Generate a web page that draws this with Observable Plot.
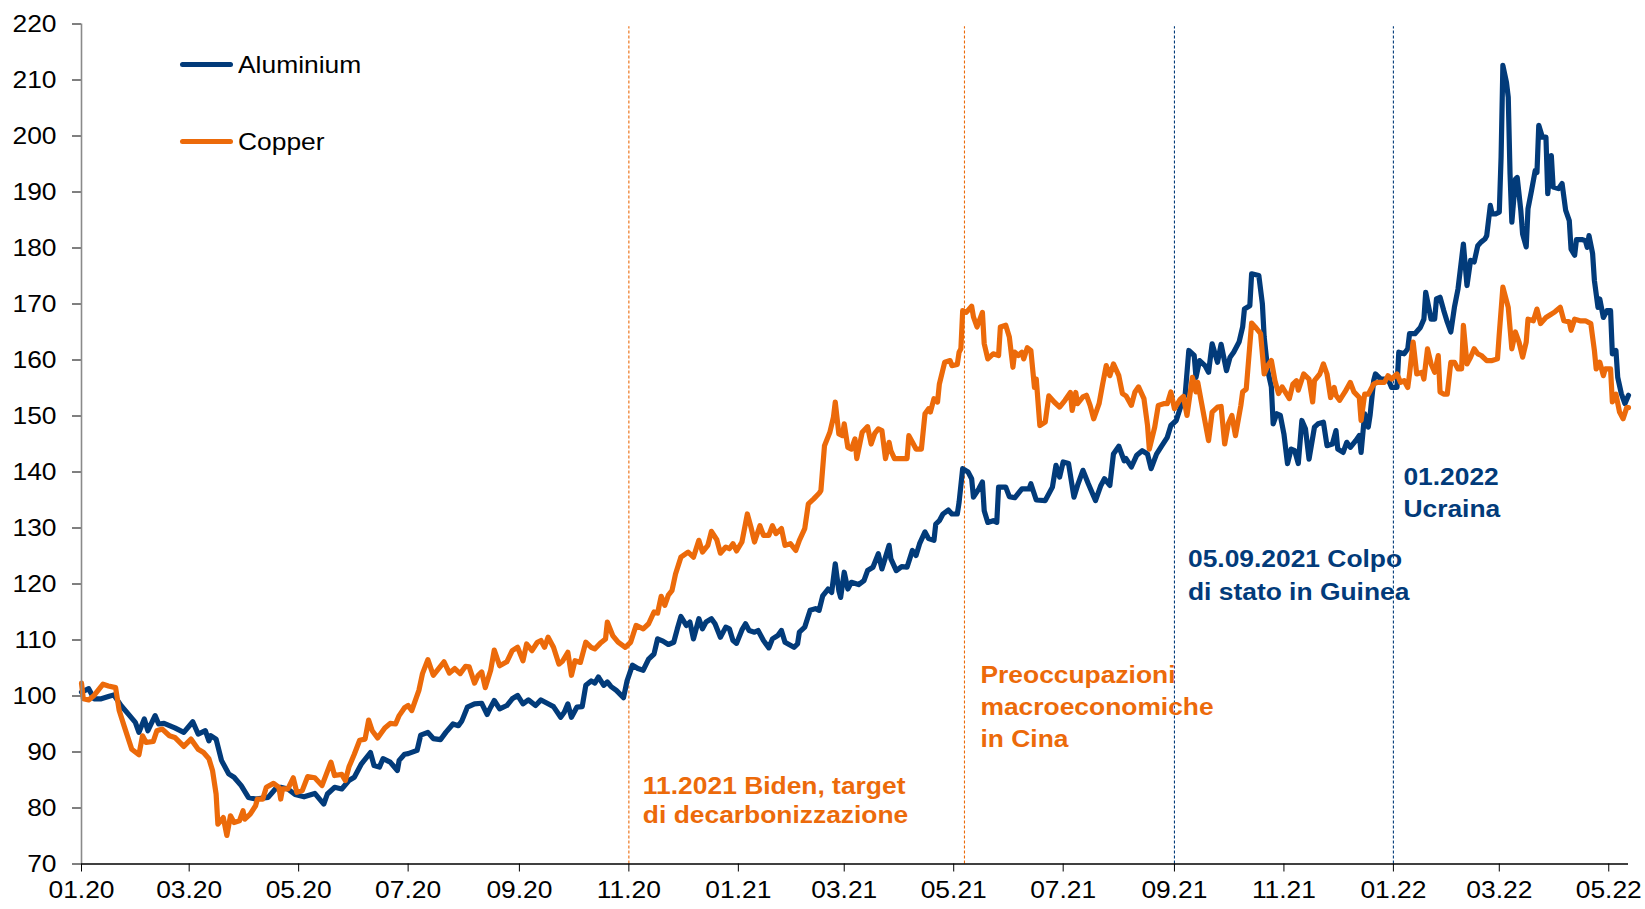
<!DOCTYPE html>
<html>
<head>
<meta charset="utf-8">
<script src="https://cdn.jsdelivr.net/npm/d3@7"></script>
<script src="https://cdn.jsdelivr.net/npm/@observablehq/plot@0.6"></script>
<style>
  html, body { margin: 0; padding: 0; background: #fff; }
  #wrap { position: relative; width: 1645px; height: 909px; font-family: "Liberation Sans", Arial, sans-serif; }
  .lg { position: absolute; display: flex; align-items: center; height: 27px; }
  .sw { width: 53px; height: 5px; border-radius: 3px; margin-right: 5px; }
  .lt { font-size: 24px; line-height: 27px; color: #000; transform: scaleX(1.1); transform-origin: left center; white-space: nowrap; }
</style>
</head>
<body>
<div id="wrap"></div>
<script>
const BLUE = "#023B7A";
const ORANGE = "#EC6A0A";

const seriesNames = ["Aluminium", "Copper"];

const aluminium = [
["2020-01-01",100.7],["2020-01-05",101.3],["2020-01-08",99.5],["2020-01-12",99.5],["2020-01-16",99.9],["2020-01-19",100.2],
["2020-01-23",98.3],["2020-01-27",96.8],["2020-01-31",95.3],["2020-02-02",93.5],["2020-02-05",95.9],["2020-02-07",93.8],
["2020-02-11",96.5],["2020-02-13",95.0],["2020-02-16",95.1],["2020-02-22",94.3],["2020-02-27",93.5],["2020-03-03",95.4],
["2020-03-06",93.2],["2020-03-10",93.8],["2020-03-12",92.0],["2020-03-13",92.9],["2020-03-16",92.3],["2020-03-19",88.5],
["2020-03-23",86.1],["2020-03-26",85.5],["2020-03-30",84.0],["2020-04-03",81.9],["2020-04-07",81.6],["2020-04-14",81.9],
["2020-04-18",83.4],["2020-04-21",83.7],["2020-04-25",83.4],["2020-04-29",82.4],["2020-05-04",82.0],["2020-05-10",82.6],
["2020-05-15",80.7],["2020-05-17",82.5],["2020-05-21",83.7],["2020-05-25",83.4],["2020-05-29",84.9],["2020-06-01",85.5],
["2020-06-05",87.9],["2020-06-10",89.9],["2020-06-12",87.6],["2020-06-15",87.3],["2020-06-17",88.8],["2020-06-21",88.2],
["2020-06-25",86.7],["2020-06-26",88.5],["2020-06-29",89.6],["2020-07-01",89.7],["2020-07-06",90.3],["2020-07-08",93.0],
["2020-07-12",93.5],["2020-07-15",92.4],["2020-07-19",92.2],["2020-07-22",93.5],["2020-07-26",95.0],["2020-07-29",94.7],
["2020-07-31",95.6],["2020-08-03",98.0],["2020-08-07",98.6],["2020-08-11",98.7],["2020-08-14",96.7],["2020-08-16",98.0],
["2020-08-18",99.2],["2020-08-21",97.7],["2020-08-25",98.3],["2020-08-28",99.5],["2020-08-31",100.1],["2020-09-03",98.6],
["2020-09-06",99.3],["2020-09-10",98.3],["2020-09-13",99.3],["2020-09-17",98.6],["2020-09-20",98.1],["2020-09-24",96.2],
["2020-09-26",97.1],["2020-09-28",98.6],["2020-09-30",96.2],["2020-10-03",98.0],["2020-10-06",98.1],["2020-10-08",101.9],
["2020-10-11",102.7],["2020-10-13",102.3],["2020-10-15",103.4],["2020-10-18",101.9],["2020-10-20",102.5],["2020-10-22",101.7],
["2020-10-25",101.0],["2020-10-29",99.7],["2020-10-31",102.7],["2020-11-03",105.5],["2020-11-06",104.9],["2020-11-09",104.6],
["2020-11-12",106.6],["2020-11-15",107.5],["2020-11-17",110.2],["2020-11-20",109.8],["2020-11-23",109.2],["2020-11-26",109.6],
["2020-11-28",112.0],["2020-11-30",114.2],["2020-12-03",112.6],["2020-12-05",113.2],["2020-12-07",110.2],["2020-12-10",113.8],
["2020-12-12",112.0],["2020-12-14",113.2],["2020-12-17",113.8],["2020-12-19",112.9],["2020-12-22",110.5],["2020-12-25",112.3],
["2020-12-27",112.0],["2020-12-29",109.9],["2020-12-31",109.4],["2021-01-03",111.8],["2021-01-05",112.9],["2021-01-07",111.7],
["2021-01-10",111.4],["2021-01-12",111.7],["2021-01-15",109.9],["2021-01-18",108.6],["2021-01-20",110.2],["2021-01-23",110.8],
["2021-01-25",111.7],["2021-01-27",109.6],["2021-02-01",108.7],["2021-02-03",109.3],["2021-02-04",111.4],["2021-02-07",112.3],
["2021-02-10",115.3],["2021-02-13",115.6],["2021-02-15",115.3],["2021-02-17",117.9],["2021-02-20",119.1],["2021-02-22",118.5],
["2021-02-24",123.6],["2021-02-26",118.8],["2021-02-27",117.6],["2021-03-01",122.1],["2021-03-03",119.1],["2021-03-05",120.3],
["2021-03-09",119.9],["2021-03-12",120.6],["2021-03-14",122.4],["2021-03-17",123.0],["2021-03-20",125.4],["2021-03-22",122.7],
["2021-03-24",124.8],["2021-03-26",126.9],["2021-03-27",124.5],["2021-03-30",122.4],["2021-04-02",123.1],["2021-04-05",123.0],
["2021-04-08",126.0],["2021-04-10",125.1],["2021-04-12",127.2],["2021-04-15",129.3],["2021-04-17",128.1],["2021-04-20",127.8],
["2021-04-21",130.7],["2021-04-23",131.3],["2021-04-25",132.5],["2021-04-28",133.2],["2021-04-30",132.5],["2021-05-03",132.5],
["2021-05-04",134.6],["2021-05-06",140.6],["2021-05-09",140.0],["2021-05-11",138.8],["2021-05-12",135.5],["2021-05-15",137.0],
["2021-05-17",138.2],["2021-05-18",133.1],["2021-05-20",131.0],["2021-05-23",131.3],["2021-05-25",131.0],["2021-05-26",137.3],
["2021-05-30",137.3],["2021-06-01",135.6],["2021-06-04",135.4],["2021-06-08",137.0],["2021-06-12",137.0],["2021-06-13",137.9],
["2021-06-16",135.0],["2021-06-21",134.9],["2021-06-25",137.3],["2021-06-27",141.2],["2021-06-29",139.1],["2021-07-01",141.8],
["2021-07-04",141.5],["2021-07-07",135.5],["2021-07-09",137.6],["2021-07-12",140.3],["2021-07-15",137.9],["2021-07-19",134.9],
["2021-07-22",137.6],["2021-07-24",138.8],["2021-07-27",137.6],["2021-07-29",143.2],["2021-08-01",144.6],["2021-08-04",142.0],
["2021-08-05",142.4],["2021-08-08",140.9],["2021-08-11",143.0],["2021-08-14",143.8],["2021-08-17",143.2],["2021-08-19",140.6],
["2021-08-22",143.2],["2021-08-25",144.7],["2021-08-28",146.2],["2021-08-30",148.3],["2021-09-02",149.2],["2021-09-05",152.2],
["2021-09-07",153.9],["2021-09-09",161.7],["2021-09-12",160.8],["2021-09-13",156.9],["2021-09-15",159.9],["2021-09-18",159.0],
["2021-09-20",157.8],["2021-09-22",162.9],["2021-09-25",159.6],["2021-09-27",162.8],["2021-09-30",158.1],["2021-10-02",160.5],
["2021-10-04",161.4],["2021-10-07",163.2],["2021-10-09",165.9],["2021-10-10",169.1],["2021-10-13",169.7],["2021-10-14",175.4],
["2021-10-18",175.1],["2021-10-20",170.0],["2021-10-21",164.1],["2021-10-23",158.1],["2021-10-25",155.2],["2021-10-26",148.6],
["2021-10-28",150.4],["2021-10-30",150.1],["2021-11-01",146.8],["2021-11-03",141.5],["2021-11-05",144.1],["2021-11-07",143.8],
["2021-11-09",141.5],["2021-11-11",149.2],["2021-11-13",147.7],["2021-11-15",142.3],["2021-11-18",148.0],["2021-11-20",148.6],
["2021-11-23",148.9],["2021-11-25",144.7],["2021-11-28",145.0],["2021-11-30",147.4],["2021-12-01",144.1],["2021-12-04",143.5],
["2021-12-06",145.3],["2021-12-08",144.4],["2021-12-11",145.6],["2021-12-13",146.5],["2021-12-14",143.5],["2021-12-16",150.4],
["2021-12-18",148.0],["2021-12-19",150.1],["2021-12-21",156.3],["2021-12-22",157.5],["2021-12-25",156.6],["2021-12-29",156.6],
["2021-12-31",155.1],["2022-01-03",155.1],["2022-01-04",161.4],["2022-01-07",161.1],["2022-01-09",162.0],["2022-01-10",164.7],
["2022-01-13",164.7],["2022-01-16",165.8],["2022-01-18",167.3],["2022-01-19",172.1],["2022-01-22",167.3],["2022-01-24",167.3],
["2022-01-25",170.9],["2022-01-27",171.2],["2022-01-29",168.9],["2022-01-31",166.8],["2022-02-02",165.0],["2022-02-04",169.4],
["2022-02-06",172.7],["2022-02-09",180.7],["2022-02-11",173.3],["2022-02-13",177.8],["2022-02-15",177.5],["2022-02-17",180.4],
["2022-02-19",181.1],["2022-02-21",181.6],["2022-02-22",182.2],["2022-02-24",187.6],["2022-02-25",186.1],["2022-02-27",186.1],
["2022-03-01",186.4],["2022-03-02",196.2],["2022-03-03",212.6],["2022-03-05",209.6],["2022-03-06",206.9],["2022-03-07",193.2],
["2022-03-08",184.6],["2022-03-10",192.3],["2022-03-11",192.6],["2022-03-13",186.7],["2022-03-14",182.5],["2022-03-16",180.2],
["2022-03-17",187.0],["2022-03-19",190.3],["2022-03-21",193.8],["2022-03-22",193.5],["2022-03-23",201.9],["2022-03-25",199.8],
["2022-03-27",199.8],["2022-03-28",189.7],["2022-03-30",196.5],["2022-03-31",190.9],["2022-04-03",190.6],["2022-04-05",191.5],
["2022-04-07",186.7],["2022-04-09",184.9],["2022-04-10",179.8],["2022-04-12",178.7],["2022-04-13",181.5],["2022-04-16",181.5],
["2022-04-18",181.3],["2022-04-19",180.1],["2022-04-20",182.2],["2022-04-22",179.0],["2022-04-23",174.2],["2022-04-25",169.4],
["2022-04-26",170.9],["2022-04-28",167.6],["2022-04-30",168.8],["2022-05-02",168.8],["2022-05-03",161.1],["2022-05-05",161.7],
["2022-05-06",156.9],["2022-05-08",154.0],["2022-05-10",152.2],["2022-05-12",153.7]
];

const copper = [
["2020-01-01",102.3],["2020-01-02",99.5],["2020-01-05",99.3],["2020-01-08",100.1],["2020-01-13",102.1],["2020-01-16",101.8],
["2020-01-20",101.5],["2020-01-22",97.4],["2020-01-25",94.4],["2020-01-29",90.5],["2020-02-02",89.5],["2020-02-04",92.9],
["2020-02-06",91.7],["2020-02-10",91.9],["2020-02-12",93.8],["2020-02-15",94.1],["2020-02-19",92.9],["2020-02-22",92.6],
["2020-02-27",91.0],["2020-03-02",92.3],["2020-03-06",90.5],["2020-03-09",89.9],["2020-03-12",88.8],["2020-03-14",86.7],
["2020-03-16",82.5],["2020-03-17",77.1],["2020-03-20",78.3],["2020-03-22",75.1],["2020-03-24",78.6],["2020-03-26",77.4],
["2020-03-29",77.7],["2020-03-31",79.5],["2020-04-01",78.0],["2020-04-04",78.9],["2020-04-07",80.4],["2020-04-08",81.6],
["2020-04-11",81.6],["2020-04-13",83.7],["2020-04-17",84.4],["2020-04-20",83.7],["2020-04-21",81.6],["2020-04-22",83.4],
["2020-04-25",83.4],["2020-04-28",85.4],["2020-04-30",82.8],["2020-05-03",83.1],["2020-05-06",85.6],["2020-05-10",85.4],
["2020-05-14",84.0],["2020-05-19",88.2],["2020-05-21",85.8],["2020-05-25",86.0],["2020-05-27",84.9],["2020-05-29",87.3],
["2020-06-01",89.6],["2020-06-04",92.1],["2020-06-07",92.3],["2020-06-09",95.7],["2020-06-11",93.8],["2020-06-14",92.5],
["2020-06-18",94.3],["2020-06-21",95.1],["2020-06-24",95.0],["2020-06-26",96.5],["2020-06-29",97.9],["2020-07-01",98.3],
["2020-07-03",97.4],["2020-07-07",101.0],["2020-07-09",104.0],["2020-07-12",106.5],["2020-07-15",103.7],["2020-07-18",104.9],
["2020-07-21",106.1],["2020-07-24",104.1],["2020-07-27",104.9],["2020-07-30",104.0],["2020-08-02",105.3],["2020-08-04",105.2],
["2020-08-07",102.3],["2020-08-09",103.7],["2020-08-11",104.3],["2020-08-13",101.5],["2020-08-16",104.6],["2020-08-18",108.2],
["2020-08-21",105.4],["2020-08-25",106.1],["2020-08-28",108.1],["2020-08-31",108.7],["2020-09-03",106.3],["2020-09-05",109.3],
["2020-09-08",108.1],["2020-09-11",109.6],["2020-09-13",109.9],["2020-09-15",108.7],["2020-09-17",110.5],["2020-09-20",108.7],
["2020-09-23",105.7],["2020-09-25",106.2],["2020-09-28",107.8],["2020-09-30",103.7],["2020-10-02",106.3],["2020-10-05",106.0],
["2020-10-08",109.6],["2020-10-11",108.7],["2020-10-13",108.4],["2020-10-16",109.4],["2020-10-19",110.2],["2020-10-20",113.2],
["2020-10-23",110.8],["2020-10-26",109.6],["2020-10-30",108.7],["2020-11-02",109.6],["2020-11-05",112.6],["2020-11-09",112.0],
["2020-11-12",112.9],["2020-11-15",115.0],["2020-11-17",114.8],["2020-11-19",117.8],["2020-11-21",116.2],["2020-11-23",118.0],
["2020-11-25",118.8],["2020-11-27",121.8],["2020-11-30",124.8],["2020-12-04",125.7],["2020-12-07",124.8],["2020-12-10",127.8],
["2020-12-12",125.7],["2020-12-15",126.9],["2020-12-17",129.4],["2020-12-20",127.9],["2020-12-22",125.5],["2020-12-25",126.6],
["2020-12-27",126.3],["2020-12-29",127.2],["2020-12-31",125.9],["2021-01-03",127.5],["2021-01-06",132.5],["2021-01-08",130.2],
["2021-01-10",127.5],["2021-01-13",130.4],["2021-01-15",128.7],["2021-01-18",128.7],["2021-01-20",130.4],["2021-01-22",129.0],
["2021-01-25",129.9],["2021-01-27",126.9],["2021-01-30",127.2],["2021-02-02",126.0],["2021-02-04",127.8],["2021-02-07",129.9],
["2021-02-09",134.3],["2021-02-12",135.2],["2021-02-15",136.2],["2021-02-16",136.7],["2021-02-18",144.7],["2021-02-21",147.1],
["2021-02-23",149.8],["2021-02-24",152.5],["2021-02-26",146.8],["2021-02-28",146.5],["2021-03-01",148.6],["2021-03-03",144.4],
["2021-03-05",144.1],["2021-03-07",145.9],["2021-03-08",142.4],["2021-03-11",147.1],["2021-03-14",148.1],["2021-03-16",145.0],
["2021-03-18",146.9],["2021-03-20",147.7],["2021-03-22",147.4],["2021-03-24",142.4],["2021-03-26",145.3],["2021-03-27",143.8],
["2021-03-29",142.4],["2021-04-01",142.4],["2021-04-05",142.4],["2021-04-06",146.5],["2021-04-08",145.3],["2021-04-10",144.1],
["2021-04-13",144.1],["2021-04-15",150.4],["2021-04-17",151.3],["2021-04-18",150.7],["2021-04-20",153.1],["2021-04-22",152.5],
["2021-04-23",155.7],["2021-04-26",159.6],["2021-04-29",159.9],["2021-04-30",159.0],["2021-05-03",159.2],["2021-05-04",161.4],
["2021-05-05",162.0],["2021-05-06",168.8],["2021-05-08",168.5],["2021-05-11",169.6],["2021-05-12",167.7],["2021-05-14",165.9],
["2021-05-17",168.5],["2021-05-18",162.9],["2021-05-20",160.2],["2021-05-23",161.1],["2021-05-26",160.8],["2021-05-27",165.9],
["2021-05-30",166.2],["2021-06-01",164.1],["2021-06-03",158.7],["2021-06-04",161.4],["2021-06-06",160.8],["2021-06-08",161.4],
["2021-06-09",160.2],["2021-06-11",162.2],["2021-06-13",161.7],["2021-06-15",155.1],["2021-06-16",156.6],["2021-06-18",148.3],
["2021-06-21",148.9],["2021-06-23",153.6],["2021-06-26",152.5],["2021-06-29",151.6],["2021-07-02",152.8],["2021-07-05",154.2],
["2021-07-06",151.0],["2021-07-08",154.2],["2021-07-09",152.2],["2021-07-12",153.4],["2021-07-14",153.7],["2021-07-16",151.9],
["2021-07-18",149.5],["2021-07-21",152.2],["2021-07-23",155.7],["2021-07-25",159.0],["2021-07-27",157.2],["2021-07-29",159.3],
["2021-08-01",157.2],["2021-08-03",154.0],["2021-08-05",153.6],["2021-08-08",151.9],["2021-08-10",154.3],["2021-08-12",155.2],
["2021-08-15",153.1],["2021-08-17",148.3],["2021-08-18",144.1],["2021-08-21",148.0],["2021-08-23",151.9],["2021-08-26",152.2],
["2021-08-28",152.2],["2021-08-30",154.3],["2021-09-01",151.3],["2021-09-04",152.9],["2021-09-06",153.5],["2021-09-08",150.1],
["2021-09-11",156.9],["2021-09-13",154.3],["2021-09-14",156.0],["2021-09-16",152.5],["2021-09-20",145.6],["2021-09-22",150.7],
["2021-09-25",151.6],["2021-09-27",151.7],["2021-09-29",145.0],["2021-10-01",148.6],["2021-10-03",150.1],["2021-10-05",146.5],
["2021-10-08",151.9],["2021-10-09",154.3],["2021-10-11",154.8],["2021-10-14",166.6],["2021-10-16",165.9],["2021-10-19",164.7],
["2021-10-21",157.5],["2021-10-23",159.0],["2021-10-25",159.9],["2021-10-27",156.3],["2021-10-29",154.0],["2021-10-31",155.2],
["2021-11-04",153.1],["2021-11-06",155.7],["2021-11-08",156.3],["2021-11-09",154.6],["2021-11-12",157.5],["2021-11-15",156.6],
["2021-11-17",152.5],["2021-11-18",156.3],["2021-11-21",157.5],["2021-11-23",159.3],["2021-11-25",157.5],["2021-11-27",153.3],
["2021-11-29",155.1],["2021-11-30",153.7],["2021-12-02",152.8],["2021-12-05",154.3],["2021-12-08",156.0],["2021-12-10",154.3],
["2021-12-13",153.3],["2021-12-14",149.2],["2021-12-16",153.9],["2021-12-18",153.9],["2021-12-21",155.7],["2021-12-23",156.0],
["2021-12-27",156.0],["2021-12-29",157.2],["2021-12-31",156.6],["2022-01-03",157.5],["2022-01-05",156.0],["2022-01-07",156.3],
["2022-01-09",155.1],["2022-01-10",157.5],["2022-01-12",163.2],["2022-01-14",157.5],["2022-01-17",157.8],["2022-01-18",156.6],
["2022-01-20",162.0],["2022-01-22",159.3],["2022-01-24",157.8],["2022-01-26",160.8],["2022-01-27",154.3],["2022-01-29",153.9],
["2022-01-31",153.9],["2022-02-02",159.6],["2022-02-04",159.6],["2022-02-06",158.4],["2022-02-08",158.4],["2022-02-09",166.2],
["2022-02-11",159.3],["2022-02-13",160.5],["2022-02-15",162.0],["2022-02-17",161.1],["2022-02-19",160.8],["2022-02-22",159.9],
["2022-02-25",159.9],["2022-02-28",160.2],["2022-03-01",164.7],["2022-03-03",173.0],["2022-03-06",169.4],["2022-03-08",162.0],
["2022-03-10",165.0],["2022-03-12",163.2],["2022-03-14",160.5],["2022-03-16",163.2],["2022-03-17",167.3],["2022-03-20",167.0],
["2022-03-22",169.1],["2022-03-24",166.5],["2022-03-27",167.6],["2022-03-29",168.0],["2022-04-01",168.6],["2022-04-04",169.4],
["2022-04-06",167.0],["2022-04-09",166.8],["2022-04-10",165.3],["2022-04-12",167.3],["2022-04-15",167.0],["2022-04-18",167.0],
["2022-04-21",166.5],["2022-04-23",161.7],["2022-04-24",158.4],["2022-04-26",159.6],["2022-04-28",157.2],["2022-04-29",158.4],
["2022-05-02",158.4],["2022-05-03",152.5],["2022-05-05",153.9],["2022-05-07",150.7],["2022-05-09",149.5],["2022-05-11",151.5],
["2022-05-12",151.5]
];

const xTickDates = ["2020-01-01","2020-03-01","2020-05-01","2020-07-01","2020-09-01","2020-11-01",
  "2021-01-01","2021-03-01","2021-05-01","2021-07-01","2021-09-01","2021-11-01",
  "2022-01-01","2022-03-01","2022-05-01"];
const yTicks = [70,80,90,100,110,120,130,140,150,160,170,180,190,200,210,220];

const eventDates = ["2020-11-01","2021-05-07","2021-09-01","2022-01-01"];
const eventLabels = [
  "11.2021 Biden, target\ndi decarbonizzazione",
  "Preoccupazioni\nmacroeconomiche\nin Cina",
  "05.09.2021 Colpo\ndi stato in Guinea",
  "01.2022\nUcraina"
];
const eventSeries = ["Copper","Copper","Aluminium","Aluminium"];

// label layout (value-axis anchor of first line, px offset from event line, line height)
const labelY = [86.3, 106.3, 127.1, 141.8];
const labelDx = [14, 16, 13.5, 10];
const labelLH = [1.22, 1.33, 1.35, 1.35];

const parse = d3.utcParse("%Y-%m-%d");
const colorOf = {Aluminium: BLUE, Copper: ORANGE};
const alData = aluminium.map(([d, v]) => ({date: parse(d), value: v}));
const cuData = copper.map(([d, v]) => ({date: parse(d), value: v}));
const events = eventDates.map((d, i) => ({date: parse(d), label: eventLabels[i], color: colorOf[eventSeries[i]], y: labelY[i]}));

const chart = Plot.plot({
  width: 1645,
  height: 909,
  marginLeft: 81,
  marginRight: 17,
  marginTop: 23.5,
  marginBottom: 45.5,
  style: {fontFamily: "'Liberation Sans', Arial, sans-serif", fontSize: "24px", color: "#000", background: "#fff"},
  x: {
    type: "utc",
    domain: [parse("2020-01-01"), parse("2022-05-12")],
    ticks: xTickDates.map(parse),
    tickFormat: d3.utcFormat("%m.%y"),
    tickSize: 8,
    tickPadding: 8.5,
    label: null
  },
  y: {
    domain: [70, 220],
    ticks: yTicks,
    tickSize: 9,
    tickPadding: 16,
    label: null
  },
  marks: [
    ...events.map(e => Plot.ruleX([e], {x: "date", y1: 70, y2: 219.5, stroke: e.color, strokeWidth: 1.1, strokeDasharray: "3,2"})),
    Plot.line(alData, {x: "date", y: "value", stroke: BLUE, strokeWidth: 5.2, strokeLinejoin: "round", strokeLinecap: "round"}),
    Plot.line(cuData, {x: "date", y: "value", stroke: ORANGE, strokeWidth: 5.2, strokeLinejoin: "round", strokeLinecap: "round"}),
    Plot.ruleX([parse("2020-01-01")], {stroke: "#8a8a8a", strokeWidth: 1.6}),
    Plot.ruleY([70], {stroke: "#000", strokeWidth: 1.3}),
    ...events.map((e, i) => Plot.text([e], {
      x: "date", y: "y", text: "label", fill: e.color, dx: labelDx[i],
      textAnchor: "start", lineAnchor: "top", lineHeight: labelLH[i],
      fontWeight: "bold", fontSize: 24
    }))
  ]
});

// Original typography is slightly wide: stretch text horizontally about its anchor
chart.querySelectorAll("text").forEach(t => {
  const x = +t.getAttribute("x") || 0, y = +t.getAttribute("y") || 0;
  const tr = t.getAttribute("transform") || "";
  t.setAttribute("transform", `${tr} translate(${x},${y}) scale(1.1,1) translate(${-x},${-y})`);
});

const wrap = document.getElementById("wrap");
wrap.appendChild(chart);

// legend overlaid in the plot's top-left corner
const legendTops = [50.5, 127.5];
seriesNames.forEach((name, i) => {
  const row = document.createElement("div");
  row.className = "lg";
  row.style.left = "180px";
  row.style.top = legendTops[i] + "px";
  row.innerHTML = `<div class="sw" style="background:${colorOf[name]}"></div><div class="lt">${name}</div>`;
  wrap.appendChild(row);
});
</script>
</body>
</html>
